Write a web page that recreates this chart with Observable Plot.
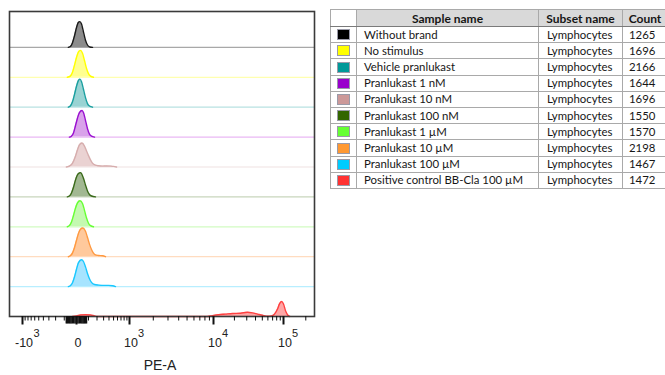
<!DOCTYPE html>
<html><head><meta charset="utf-8">
<script src="https://cdn.jsdelivr.net/npm/d3@7"></script>
<script src="https://cdn.jsdelivr.net/npm/@observablehq/plot@0.6"></script>
<style>
html,body{margin:0;padding:0;background:#fff}
body{width:665px;height:375px;overflow:hidden;position:relative}
#chart{position:absolute;left:0;top:0}
#tbl{position:absolute;left:330px;top:9px}
table{border-collapse:collapse;table-layout:fixed;font-family:Lato,"Liberation Sans",sans-serif;font-size:11.4px;color:#161616;border:1px solid #4a4a4a}
th,td{border:1px solid #a9a9a9;padding:0;white-space:nowrap;overflow:hidden;box-sizing:border-box}
th{height:17px;background:#d9d9d9;font-weight:bold;font-size:12px;text-align:center;border-bottom:1px solid #7a7a7a}
th.c0{background:#fff}
td{height:16.2px;padding-left:7px;line-height:14px}
td.c0{padding:0;text-align:center}
td.c2{padding-left:8px}
td.c3{padding-left:6px}
.sw{display:inline-block;width:11px;height:9px;border:1px solid #9a9aa8;vertical-align:middle;margin-top:-2px}
</style>
</head><body>
<div id="chart"></div>
<div id="tbl"></div>
<script>
const sampleNames = ["Without brand","No stimulus","Vehicle pranlukast","Pranlukast 1 nM","Pranlukast 10 nM","Pranlukast 100 nM","Pranlukast 1 µM","Pranlukast 10 µM","Pranlukast 100 µM","Positive control BB-Cla 100 µM"];
const subsetNames = ["Lymphocytes","Lymphocytes","Lymphocytes","Lymphocytes","Lymphocytes","Lymphocytes","Lymphocytes","Lymphocytes","Lymphocytes","Lymphocytes"];
const counts = [1265,1696,2166,1644,1696,1550,1570,2198,1467,1472];
const swatchColors = ["#000000","#ffff00","#009999","#9900cc","#cc9999","#336600","#66ff33","#ff9933","#00ccff","#ff3333"];
const lineColors = ["#1a1a1a","#ffff00","#1a9f9f","#9a10d0","#d6adad","#3a6a1a","#66ff33","#ff9940","#19c8ff","#ff4040"];
const fillColors = ["#8c8c8c","#ffff90","#99d3d3","#d9a2ea","#ead2d2","#a2b892","#c4f9b0","#ffc99c","#a6e4ff","#ffa6a6"];
const baselineColors = ["#a8a8a8","#ffffb0","#b8e2e2","#eab8f4","#efe2e2","#c8d6bc","#d2fbc2","#ffdcc0","#b8eeff","#ff3333"];

// PE-A value, height as fraction of a row (per sample)
const histWithoutBrand = [[-62,0],[-45,0.03],[-29,0.15],[-14,0.38],[0,0.66],[14,0.84],[24,0.86],[37,0.78],[53,0.52],[71,0.24],[90,0.08],[110,0.02],[144,0]];
const histNoStimulus = [[-71,0],[-45,0.04],[-29,0.16],[-14,0.4],[0,0.66],[14,0.85],[29,0.9],[45,0.8],[62,0.56],[80,0.3],[100,0.12],[121,0.04],[155,0]];
const histVehicle = [[-62,0],[-45,0.04],[-29,0.17],[-14,0.42],[0,0.7],[14,0.9],[25,0.94],[37,0.85],[53,0.6],[71,0.32],[90,0.12],[110,0.04],[144,0]];
const hist1nM = [[-53,0],[-37,0.03],[-21,0.14],[-7,0.38],[7,0.64],[21,0.82],[41,0.89],[53,0.82],[71,0.56],[90,0.28],[110,0.1],[132,0.03],[168,0]];
const hist10nM = [[-80,0],[-53,0.03],[-29,0.12],[-7,0.36],[7,0.58],[21,0.74],[41,0.8],[62,0.7],[80,0.54],[100,0.38],[121,0.24],[143,0.13],[180,0.06],[221,0.04],[282,0.03],[352,0.035],[431,0.03],[499,0.02],[574,0]];
const hist100nM = [[-71,0],[-53,0.03],[-37,0.12],[-21,0.32],[-7,0.56],[7,0.74],[21,0.8],[29,0.81],[37,0.78],[53,0.62],[71,0.4],[90,0.2],[110,0.08],[132,0.03],[180,0]];
const hist1uM = [[-71,0],[-53,0.04],[-37,0.15],[-21,0.38],[-7,0.62],[7,0.8],[25,0.87],[45,0.78],[62,0.55],[80,0.3],[100,0.12],[121,0.04],[155,0]];
const hist10uM = [[-62,0],[-45,0.03],[-29,0.12],[-14,0.3],[0,0.55],[14,0.78],[29,0.92],[49,0.96],[71,0.85],[90,0.64],[110,0.42],[132,0.24],[155,0.12],[180,0.06],[221,0.04],[282,0.03],[333,0]];
const hist100uM = [[-62,0],[-45,0.03],[-29,0.12],[-14,0.32],[0,0.58],[14,0.8],[37,0.9],[53,0.84],[71,0.66],[90,0.44],[110,0.26],[132,0.14],[168,0.07],[221,0.05],[298,0.04],[390,0.04],[476,0.03],[548,0]];
const histPositive = [[-29,0],[0,0.02],[29,0.05],[71,0.06],[121,0.05],[168,0.02],[207,0],[2000,0],[8550,0],[9740,0.03],[11800,0.06],[14900,0.08],[18760,0.1],[24430,0.11],[30770,0.14],[36240,0.12],[42680,0.08],[50280,0.04],[59260,0.01],[67540,0.02],[74480,0.08],[82200,0.25],[87740,0.42],[93660,0.5],[100000,0.42],[106780,0.18],[114000,0.05],[121700,0]];
const histograms = [histWithoutBrand,histNoStimulus,histVehicle,hist1nM,hist10nM,hist100nM,hist1uM,hist10uM,hist100uM,histPositive];

const majorTicks = [-1000,0,1000,10000,100000];
const tickBases = ["-10","0","10","10","10"];
const tickExps = ["3","","3","4","5"];
const nearZeroTicks = [-80,-70,-60,-50,-40,-30,-20,-10,10,20,30,40,50,60,70,80];
const minorTicks = [-900,-800,-700,-600,-500,-400,-300,-200,-100,100,200,300,400,500,600,700,800,900,2000,3000,4000,5000,6000,7000,8000,9000,20000,30000,40000,50000,60000,70000,80000,90000,200000];
const axisLabel = "PE-A";

const nRows = sampleNames.length;
const points = histograms.flatMap((h, i) => h.map(([v, f]) => ({
  sample: sampleNames[i], v, base: nRows - 1 - i, top: nRows - 1 - i + f,
  fill: fillColors[i], stroke: lineColors[i]
})));
const baseRows = sampleNames.slice(0, nRows - 1).map((s, i) => ({base: nRows - 1 - i, color: baselineColors[i]}));

const font = '"Liberation Sans", Arial, sans-serif';
const chart = Plot.plot({
  width: 330, height: 375,
  marginLeft: 9, marginRight: 16, marginTop: 11, marginBottom: 59,
  style: {fontFamily: font, background: "white", color: "#111", overflow: "visible"},
  x: {type: "symlog", constant: 200, label: null,
      domain: [-1650, -1000, 0, 1000, 10000, 100000, 262144],
      range: [9, 22, 76, 129, 213, 283, 314]},
  y: {domain: [0, 10.2], axis: null},
  marks: [
    Plot.ruleY(baseRows, {y: "base", stroke: "color", strokeWidth: 1.2}),
    Plot.areaY(points, {x: "v", y1: "base", y2: "top", z: "sample", fill: "fill", curve: "monotone-x"}),
    Plot.lineY(points, {x: "v", y: "top", z: "sample", stroke: "stroke", strokeWidth: 1.4, curve: "monotone-x"}),
    Plot.frame({stroke: "#3a3a3a", strokeWidth: 1.6}),
    Plot.axisX(minorTicks, {tickSize: 4.5, strokeWidth: 1, tickFormat: () => ""}),
    Plot.axisX(nearZeroTicks, {tickSize: 7.5, strokeWidth: 1.6, tickFormat: () => ""}),
    Plot.axisX(majorTicks, {tickSize: 8.5, strokeWidth: 2, tickFormat: () => ""}),
    Plot.text(majorTicks, {x: d => d, text: (d, i) => tickBases[i], frameAnchor: "bottom", dy: 30, dx: 1.5, fontSize: 12.5, fill: "#222"}),
    Plot.text([2, 3, 4], {x: i => majorTicks[i], text: i => tickExps[i], frameAnchor: "bottom", textAnchor: "start", dy: 20, dx: 8.5, fontSize: 11, fill: "#222"}),
    Plot.text([0], {x: i => majorTicks[i], text: i => tickExps[i], frameAnchor: "bottom", textAnchor: "start", dy: 20, dx: 11, fontSize: 11, fill: "#222"}),
    Plot.text([axisLabel], {text: d => d, frameAnchor: "bottom", dy: 53.5, dx: -2, fontSize: 14, fill: "#222"})
  ]
});
document.getElementById("chart").append(chart);

// table
const table = d3.select("#tbl").append("table");
const cg = table.append("colgroup");
[26, 182, 84, 45].forEach(w => cg.append("col").style("width", w + "px"));
table.style("width", "337px");
const hr = table.append("tr");
["", "Sample name", "Subset name", "Count"].forEach((t, j) => hr.append("th").attr("class", "c" + j).text(t));
sampleNames.forEach((name, i) => {
  const tr = table.append("tr");
  tr.append("td").attr("class", "c0").append("span").attr("class", "sw").style("background", swatchColors[i]);
  tr.append("td").attr("class", "c1").text(name);
  tr.append("td").attr("class", "c2").text(subsetNames[i]);
  tr.append("td").attr("class", "c3").text(counts[i]);
});
</script>
</body></html>
